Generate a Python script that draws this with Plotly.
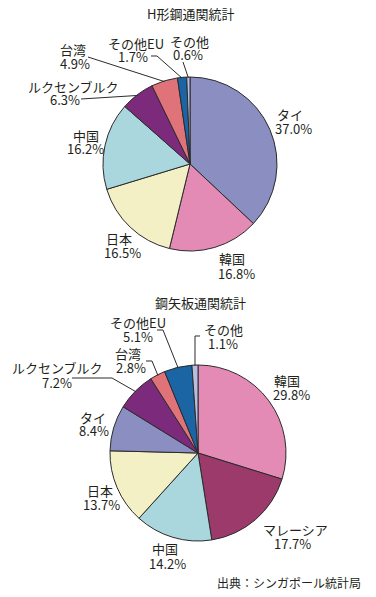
import math
import plotly.graph_objects as go

W, H = 376, 597

# ---- data ----
h_title = "H形鋼通関統計"
h_labels = ["タイ", "韓国", "日本", "中国", "ルクセンブルク", "台湾", "その他EU", "その他"]
h_values = [37.0, 16.8, 16.5, 16.2, 6.3, 4.9, 1.7, 0.6]

s_title = "鋼矢板通関統計"
s_labels = ["韓国", "マレーシア", "中国", "日本", "タイ", "ルクセンブルク", "台湾", "その他EU", "その他"]
s_values = [29.8, 17.7, 14.2, 13.7, 8.4, 7.2, 2.8, 5.1, 1.1]

source_text = "出典：シンガポール統計局"

# ---- styles ----
COLORS = {
    "タイ": "#8a8ec1", "韓国": "#e38bb5", "日本": "#f3f0c5", "中国": "#aad7de",
    "ルクセンブルク": "#7c2a7b", "台湾": "#e07379", "その他EU": "#1b65a5",
    "その他": "#b8bee1", "マレーシア": "#9c3a6b",
}
FONT = "Noto Sans CJK JP"
TXT = "#231f20"
LINE = "#2b2b2b"

# pie geometry (pixels): center x, center y, radius
PIES = [
    dict(cx=190, cy=164, r=87),
    dict(cx=198, cy=453, r=88),
]

# label placement (pixels): name center x, name y, pct center x, pct y
h_pos = {
    "タイ": (290, 115, 293, 128),
    "韓国": (232, 258, 236, 273),
    "日本": (119, 238, 122, 252),
    "中国": (86, 135, 85, 148),
    "ルクセンブルク": (73, 87, 65, 100),
    "台湾": (73, 50, 75, 63),
    "その他EU": (136, 43, 133, 56),
    "その他": (189, 42, 188, 55),
}
s_pos = {
    "韓国": (287, 380, 291, 394),
    "マレーシア": (295, 529, 292, 543),
    "中国": (165, 548, 167, 563),
    "日本": (100, 490, 102, 504),
    "タイ": (93, 417, 94, 430),
    "ルクセンブルク": (57, 367, 57, 382),
    "台湾": (128, 353, 131, 367),
    "その他EU": (138, 322, 138, 336),
    "その他": (223, 330, 223, 343),
}
# leader lines: label-side points (pixels); final point is computed on the slice edge
h_leaders = {
    "ルクセンブルク": [(81, 99)],
    "台湾": [(88, 57)],
    "その他EU": [(151, 56), (157, 56)],
    "その他": [(183, 62)],
}
s_leaders = {
    "ルクセンブルク": [(72, 378), (112, 378)],
    "台湾": [(146, 361), (152, 361)],
    "その他EU": [(157, 330), (163, 330)],
    "その他": [(200, 336), (195, 336)],
}


def px(x):
    return x / W


def py(y):
    return 1 - y / H


def edge_point(pie, values, idx, frac=1.0):
    total = sum(values)
    before = sum(values[:idx])
    mid = (before + values[idx] / 2) / total
    ang = 2 * math.pi * mid  # clockwise from 12 o'clock
    x = pie["cx"] + pie["r"] * frac * math.sin(ang)
    y = pie["cy"] - pie["r"] * frac * math.cos(ang)
    return x, y


fig = go.Figure()
annotations = []
shapes = []

for pie, labels, values, pos, leaders, title in [
    (PIES[0], h_labels, h_values, h_pos, h_leaders, h_title),
    (PIES[1], s_labels, s_values, s_pos, s_leaders, s_title),
]:
    cx, cy, r = pie["cx"], pie["cy"], pie["r"]
    fig.add_trace(go.Pie(
        labels=labels, values=values, sort=False, direction="clockwise",
        rotation=0, textinfo="none", hoverinfo="label+percent",
        marker=dict(colors=[COLORS[l] for l in labels], line=dict(color=LINE, width=1)),
        domain=dict(x=[px(cx - r), px(cx + r)], y=[py(cy + r), py(cy - r)]),
        showlegend=False,
    ))
    total = sum(values)
    for i, (lab, v) in enumerate(zip(labels, values)):
        nx, ny, qx, qy = pos[lab]
        annotations.append(dict(x=px(nx), y=py(ny), xref="paper", yref="paper",
                                text=lab, showarrow=False, xanchor="center", yanchor="middle",
                                font=dict(family=FONT, size=13, color=TXT)))
        annotations.append(dict(x=px(qx), y=py(qy), xref="paper", yref="paper",
                                text=f"{v / total * 100:.1f}%", showarrow=False,
                                xanchor="center", yanchor="middle",
                                font=dict(family=FONT, size=13, color=TXT)))
        if lab in leaders:
            pts = list(leaders[lab]) + [edge_point(pie, values, i, 0.99)]
            path = "M " + " L ".join(f"{px(x):.5f},{py(y):.5f}" for x, y in pts)
            shapes.append(dict(type="path", path=path, xref="paper", yref="paper",
                               line=dict(color=LINE, width=1)))

annotations.append(dict(x=px(190), y=py(14), xref="paper", yref="paper", text=h_title,
                        showarrow=False, xanchor="center", yanchor="middle",
                        font=dict(family=FONT, size=13, color=TXT)))
annotations.append(dict(x=px(200), y=py(302), xref="paper", yref="paper", text=s_title,
                        showarrow=False, xanchor="center", yanchor="middle",
                        font=dict(family=FONT, size=13, color=TXT)))
annotations.append(dict(x=px(363), y=py(582), xref="paper", yref="paper", text=source_text,
                        showarrow=False, xanchor="right", yanchor="middle",
                        font=dict(family=FONT, size=12, color=TXT)))

fig.update_layout(
    width=W, height=H, margin=dict(l=0, r=0, t=0, b=0),
    paper_bgcolor="white", plot_bgcolor="white",
    annotations=annotations, shapes=shapes,
)

fig.write_html(
    "out.html",
    config={"displayModeBar": False},
    post_script="document.body.style.margin='0';document.body.style.overflow='hidden';",
)
